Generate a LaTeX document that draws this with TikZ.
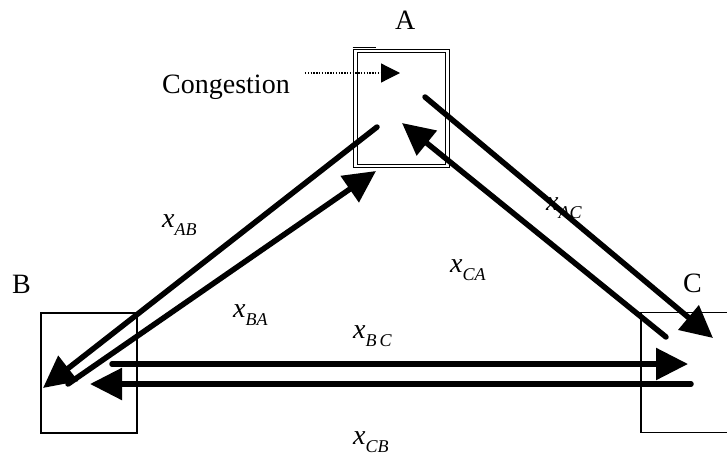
\documentclass[tikz,border=0pt]{standalone}
\usepackage{fontspec}
\setmainfont{Liberation Serif}
\usetikzlibrary{arrows.meta}

\newcommand{\flowvar}[1]{\textit{x}\raisebox{-0.3em}{\fontsize{18}{20}\selectfont\textit{#1}}}

\tikzset{
  site/.style={draw, line width=1.2pt, minimum width=96pt, minimum height=120pt, inner sep=0pt},
  flow/.style={line width=5.5pt, line cap=round, -{Triangle[length=32pt,width=31pt]}},
  lbl/.style={font=\fontsize{28}{32}\selectfont, inner sep=0pt, anchor=base west},
}

\begin{document}
\begin{tikzpicture}[x=1pt,y=-1pt]
\useasboundingbox (0,0) rectangle (727,455);
\clip (0,0) rectangle (727,455);

% ========= nodes A, B, C =========
\node[site, double, line width=1pt, double distance=2.5pt,
      minimum width=92pt, minimum height=115pt] (boxA) at (401.5,108.7) {};
\draw[line width=1pt] ([xshift=-2.5pt,yshift=3pt]boxA.north west) -- ++(23,0);
\node[site] (boxB) at (89,373) {};
\node[site] (boxC) at (689,372.5) {};

\node[lbl] (A) at (395,29) {A};
\node[lbl] (B) at (12,293) {B};
\node[lbl] (C) at (683,292) {C};

% ========= congestion marker =========
\node[lbl] (cong) at (162,93) {Congestion};
\coordinate (congtip) at (400,73);
\draw[line width=1.2pt, dash pattern=on 1.4pt off 1.4pt, -{Triangle[length=19pt,width=19pt]}]
  (cong.east |- congtip) ++(15,0) -- (congtip);

% ========= flow end points =========
\coordinate (ab-s) at (377,127);
\coordinate (ab-e) at (43,388);
\coordinate (ba-s) at (68,384);
\coordinate (ba-e) at (376,171);
\coordinate (ac-s) at (425,97);
\coordinate (ac-e) at (713,338);
\coordinate (ca-s) at (666,337);
\coordinate (ca-e) at (402,123);
\coordinate (bc-s) at (112,364);
\coordinate (bc-e) at (688,364);
\coordinate (cb-s) at (691,384);
\coordinate (cb-e) at (90,384);

% ========= flows =========
\draw[flow] (ab-s) -- (ab-e);
\draw[flow] (ba-s) -- (ba-e);
\draw[flow] (ac-s) -- (ac-e);
\draw[flow] (ca-s) -- (ca-e);
\draw[flow] (bc-s) -- (bc-e);
\draw[flow] (cb-s) -- (cb-e);

% ========= flow labels =========
\node[lbl] (xab) at (162,227) {\flowvar{AB}};
\node[lbl] (xba) at (233,317) {\flowvar{BA}};
\node[lbl] (xca) at (450,272) {\flowvar{CA}};
\node[lbl] (xac) at (546,210) {\flowvar{AC}};
\node[lbl] (xbc) at (353,338) {\flowvar{B\,C}};
\node[lbl] (xcb) at (353,444) {\flowvar{CB}};
\end{tikzpicture}
\end{document}
